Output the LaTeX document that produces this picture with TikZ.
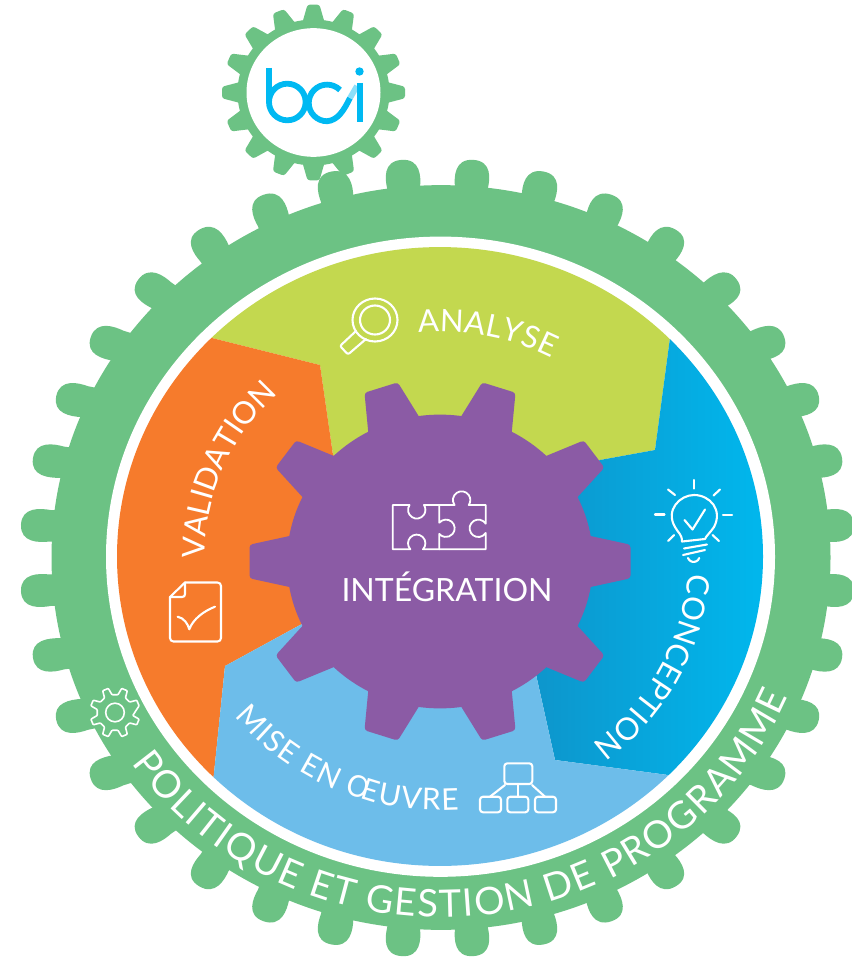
\documentclass[tikz,border=0pt]{standalone}
\usepackage{fontspec}
\setmainfont{Lato}
\usetikzlibrary{decorations.text}
\definecolor{ringgreen}{HTML}{6CC284}
\definecolor{gearpurple}{HTML}{8B5BA5}
\definecolor{lime}{HTML}{C3D84F}
\definecolor{vorange}{HTML}{F67B2C}
\definecolor{skyblue}{HTML}{6DBDEA}
\definecolor{deepblue}{HTML}{1388BE}
\definecolor{brightblue}{HTML}{00B8EE}
\definecolor{logoblue}{HTML}{00B9F2}
\tikzset{
  icon/.style={draw=white,line width=2.1pt,line join=round,line cap=round},
  wedge/.style={line width=0pt},
  logo/.style={draw=logoblue,line width=5.8pt},
  along/.style 2 args={decorate,decoration={text along path,text align={fit to path},
     text={|\fontsize{#1}{#1}\selectfont\color{white}|#2}}},
}
\begin{document}
\begin{tikzpicture}[x=1pt,y=1pt]
\path[use as bounding box,fill=white] (0,0) rectangle (851,-960);

% small gear
\begin{scope}[shift={(313.5,-92.5)},yscale=.96]
  \fill[ringgreen] (0,0) circle[radius=76];
  \foreach \a in {0,22.5,...,337.5}
    \fill[ringgreen,rounded corners=2.5pt,rotate=\a] (68,-13) -- (75,-10.5) -- (91.5,-6) -- (91.5,6) -- (75,10.5) -- (68,13) -- cycle;
  \fill[white] (0,0) circle[radius=67];
\end{scope}
% logo
\draw[logo] (269,-68) -- (269,-102);
\draw[logo] (287.3,-102) circle[radius=18.3];
\draw[logo] (340,-90) arc[start angle=45,end angle=270,radius=18.3] .. controls (338,-120.3) and (344,-110) .. (350,-98);
\draw[logo,draw=logoblue!45] (350,-98) -- (357,-86);
\draw[logo] (360,-83) -- (360,-122.5);
\fill[logoblue] (359.5,-71.5) circle[radius=4.2];

% outer ring teeth and body
\begin{scope}[shift={(437.5,-558)},yscale=.956]
  \foreach \a/\b in {5/2,15/8,25/12,35/18,45/35,55/58,65/70,75/79,85/86,
                     95/94,105/101,115/110,125/122,135/145,145/162,155/168,165/172,175/178,
                     185/182,195/188,205/192,215/198,225/215,235/238,245/250,255/259,265/266,
                     275/274,285/281,295/290,305/302,315/325,325/342,335/348,345/352,355/358}
    \fill[ringgreen,shift={(\a:385)},rotate=\b] (-14,-16.5) -- (4,-16.5)
       .. controls (14,-18) and (33,-19) .. (33,0)
       .. controls (33,19) and (14,18) .. (4,16.5) -- (-14,16.5) -- cycle;
\end{scope}
\begin{scope}[shift={(441,-557.5)},yscale=.956]
  \fill[ringgreen] (0,0) circle[radius=389.5];
\end{scope}
\begin{scope}[shift={(440.5,-556.7)},yscale=.957]
  \fill[white] (0,0) circle[radius=334.5];
\end{scope}

% sectors
\begin{scope}[shift={(440,-556.5)},yscale=.958]
  \clip (0,0) circle[radius=323];
  \begin{scope}[yscale=1/.958,shift={(-440,556.5)}]
    \fill[lime,wedge] (440,-560) -- (333,-455) -- (320,-365) -- (100,-310) -- (100,-100) -- (780,-100) -- (684,-233) -- (655,-450) -- (600,-460) -- cycle;
    \fill[vorange,wedge] (440,-560) -- (333,-455) -- (320,-365) -- (100,-310) -- (100,-880) -- (203,-880) -- (225,-666) -- (300,-625) -- cycle;
    \shade[left color=deepblue,right color=brightblue,wedge] (440,-560) -- (600,-460) -- (655,-450) -- (684,-233) -- (770,-233) -- (770,-788) -- (668,-775) -- (555,-760) -- (535,-670) -- cycle;
    \fill[skyblue,wedge] (440,-560) -- (300,-625) -- (225,-666) -- (203,-880) -- (100,-880) -- (100,-1000) -- (851,-1000) -- (851,-798) -- (668,-775) -- (555,-760) -- (535,-670) -- cycle;
  \end{scope}
\end{scope}

% central gear
\begin{scope}[shift={(440,-561.5)},yscale=.96]
  \fill[gearpurple] (0,0) circle[radius=153];
  \foreach \a in {0,36,...,324}
    \fill[gearpurple,rounded corners=3pt,rotate=\a] (135,-30) -- (153,-26) -- (190.5,-17.5) -- (190.5,17.5) -- (153,26) -- (135,30) -- cycle;
\end{scope}

% curved labels
\begin{scope}[shift={(440.5,-557)},yscale=.956]
  \path[along={31}{ANALYSE}] plot[domain=95.4:62,samples=90] ({236*cos(\x)},{236*sin(\x)});
  \path[along={31}{CONCEPTION}] plot[domain=-4:-49.5,samples=90] ({248*cos(\x)},{248*sin(\x)});
  \path[along={31}{VALIDATION}] plot[domain=180.5:134.5,samples=90] ({236*cos(\x)},{236*sin(\x)});
  \path[along={30}{MISE EN ŒUVRE}] plot[domain=219:274,samples=90] ({265*cos(\x)},{265*sin(\x)});
  \path[along={38}{POLITIQUE ET GESTION DE PROGRAMME}] plot[domain=214.9:337.2,samples=200] ({377*cos(\x)},{377*sin(\x)});
\end{scope}
\node[text=white,font=\fontsize{32}{32}\selectfont,inner sep=0pt] (integration) at (447,-587) {INTÉGRATION};

% magnifier icon
\draw[icon] (375,-320) ellipse[x radius=22.5,y radius=21.5];
\draw[icon] (375,-320) ellipse[x radius=15,y radius=14.5];
\draw[icon,rounded corners=2pt] (356,-331) -- (340,-346) -- (348,-354.5) -- (366,-339);

% puzzle icon
\draw[icon,line width=1.8pt] (392.7,-505) -- (409.5,-505) arc[start angle=146,end angle=394,radius=8.7]
  -- (454.5,-505) arc[start angle=215,end angle=-35,radius=8.7]
  -- (485.7,-505) -- (485.7,-523.7) arc[start angle=32,end angle=328,radius=8.7]
  -- (485.7,-549.3) -- (423,-549.3) arc[start angle=316.4,end angle=583.6,radius=8.7]
  -- (392.7,-549.3) -- cycle;
\draw[icon,line width=1.8pt] (439.3,-505) -- (439.3,-522.7) arc[start angle=140,end angle=-140,radius=8.7] -- (439.3,-549.3);

% bulb icon
\draw[icon] (694,-480) -- (694,-488.5);
\draw[icon] (655,-514.5) -- (664.5,-514.5);
\draw[icon] (723,-515) -- (732,-515);
\draw[icon] (668,-489.5) -- (675,-495);
\draw[icon] (720,-489.5) -- (713.5,-495.5);
\draw[icon] (668,-541) -- (674,-535);
\draw[icon] (719,-541) -- (712.5,-535);
\draw[icon] (682,-541.5) .. controls (682,-534) and (678,-533) .. (675,-527)
  .. controls (665,-510) and (680,-495) .. (694,-495)
  .. controls (710,-495) and (723,-510) .. (714,-527)
  .. controls (710,-533) and (706,-536) .. (705,-539) -- cycle;
\draw[icon] (684,-548.5) -- (707,-544.5);
\draw[icon] (683,-555) -- (705,-550);
\draw[icon] (688,-558) arc[start angle=200,end angle=340,radius=6];
\draw[icon] (684.5,-520) -- (692.5,-529.5) -- (705,-509.5);

% document icon
\draw[icon] (185,-582.5) -- (217.5,-582.5) .. controls (219.5,-582.5) and (221,-584) .. (221,-586)
  -- (221,-638) .. controls (221,-640) and (219.5,-641.5) .. (217.5,-641.5)
  -- (173.5,-641.5) .. controls (171.5,-641.5) and (170,-640) .. (170,-638) -- (170,-597) -- cycle;
\draw[icon] (170,-597) -- (182,-597) .. controls (184,-597) and (185,-596) .. (185,-594) -- (185,-582.5);
\draw[icon] (177.7,-616.7) .. controls (184,-618) and (188,-624) .. (189.3,-629.3)
  .. controls (193,-619) and (204,-611) .. (215,-606.7);

% small gear icon
\begin{scope}[shift={(115,-712.5)}]
  \draw[icon,line width=1.6pt] (0,0) circle[radius=9.3];
  \draw[icon,line width=1.6pt,rounded corners=.7pt]
    (22.5-7:25) -- (22.5+7:25) -- (22.5+13:18)
    -- (67.5-13:18) -- (67.5-7:25) -- (67.5+7:25) -- (67.5+13:18)
    -- (112.5-13:18) -- (112.5-7:25) -- (112.5+7:25) -- (112.5+13:18)
    -- (157.5-13:18) -- (157.5-7:25) -- (157.5+7:25) -- (157.5+13:18)
    -- (202.5-13:18) -- (202.5-7:25) -- (202.5+7:25) -- (202.5+13:18)
    -- (247.5-13:18) -- (247.5-7:25) -- (247.5+7:25) -- (247.5+13:18)
    -- (292.5-13:18) -- (292.5-7:25) -- (292.5+7:25) -- (292.5+13:18)
    -- (337.5-13:18) -- (337.5-7:25) -- (337.5+7:25) -- (337.5+13:18) -- cycle;
\end{scope}

% org chart icon
\draw[icon,rounded corners=3pt] (504.3,-763.3) rectangle (532.3,-784);
\draw[icon,rounded corners=3pt] (480,-796.7) rectangle (501,-812.3);
\draw[icon,rounded corners=3pt] (507.3,-796.7) rectangle (528.3,-812.3);
\draw[icon,rounded corners=3pt] (535,-796.7) rectangle (556,-812.3);
\draw[icon] (518.3,-784) -- (518.3,-796.7);
\draw[icon] (505,-785) -- (490,-796.7);
\draw[icon] (532,-785) -- (545,-796.7);
\end{tikzpicture}
\end{document}
